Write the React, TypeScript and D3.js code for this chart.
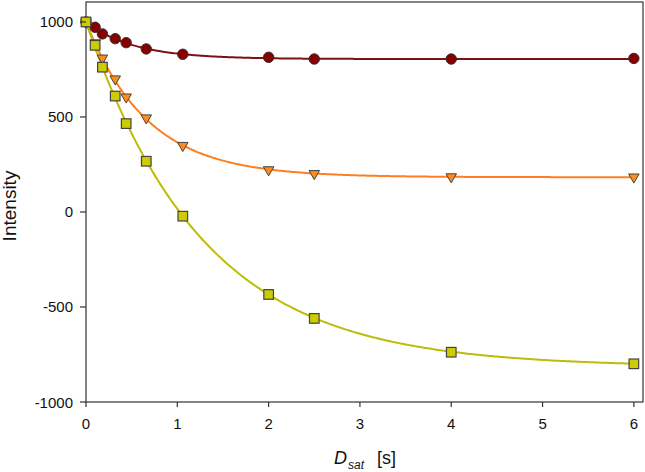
import React from "react";
import * as d3 from "d3";

// Saturation times [s]
const satTimes = [0, 0.1, 0.18, 0.32, 0.44, 0.66, 1.06, 2, 2.5, 4, 6];
// Measured intensities
const redValues = [1000, 972, 937, 912, 891, 858, 830, 814, 805, 805, 808];
const orangeValues = [1000, 890, 810, 700, 605, 495, 350, 222, 202, 185, 184];
const yellowValues = [1000, 877, 762, 610, 465, 267, -22, -434, -560, -738, -799];
// Exponential fit parameters (start, plateau, time constant) per series
const fitStart = [1000, 1000, 1000];
const fitPlateau = [805, 183, -815];
const fitTau = [0.52, 0.67, 1.28];

const xTicks = [0, 1, 2, 3, 4, 5, 6];
const yTicks = [-1000, -500, 0, 500, 1000];

const W = 645;
const H = 472;
const left = 86;
const right = 643;
const top = 2;
const bottom = 402;

const lineColors = ["#7a1414", "#ff7f1e", "#bcbc0a"];
const fillColors = ["#850000", "#ff8c1a", "#cccc00"];

export default function App() {
  const x = d3.scaleLinear().domain([0, 6.1]).range([left, right]);
  const y = d3.scaleLinear().domain([-1000, 1105]).range([bottom, top]);
  const samples = d3.range(0, 6.0001, 0.02);
  const line = d3
    .line<[number, number]>()
    .x((d) => x(d[0]))
    .y((d) => y(d[1]))
    .curve(d3.curveLinear);

  const fitPath = (i: number) =>
    line(
      samples.map((t) => [
        t,
        fitPlateau[i] + (fitStart[i] - fitPlateau[i]) * Math.exp(-t / fitTau[i]),
      ]) as [number, number][]
    ) || "";

  const tri = d3.symbol().type(d3.symbolTriangle).size(48)() || "";
  const font = "Liberation Sans, Arial, sans-serif";
  const axisColor = "#333";

  return (
    <svg
      width={W}
      height={H}
      style={{ position: "absolute", left: 0, top: 0 }}
      fontFamily={font}
    >
      <rect x={0} y={0} width={W} height={H} fill="#fff" />
      {/* frame */}
      <rect
        x={left}
        y={top}
        width={right - left}
        height={bottom - top}
        fill="none"
        stroke={axisColor}
        strokeWidth={1.2}
      />
      {/* fit lines */}
      {[0, 1, 2].map((i) => (
        <path
          key={"fit" + i}
          d={fitPath(i)}
          fill="none"
          stroke={lineColors[i]}
          strokeWidth={2}
        />
      ))}
      {/* red circles */}
      {satTimes.map((t, j) => (
        <circle
          key={"r" + j}
          cx={x(t)}
          cy={y(redValues[j])}
          r={5.2}
          fill={fillColors[0]}
          stroke="#3a2a2a"
          strokeWidth={1}
        />
      ))}
      {/* orange triangles */}
      {satTimes.map((t, j) => (
        <path
          key={"o" + j}
          d={tri}
          transform={`translate(${x(t)},${y(orangeValues[j])}) rotate(180)`}
          fill={fillColors[1]}
          stroke="#444"
          strokeWidth={1}
        />
      ))}
      {/* yellow squares */}
      {satTimes.map((t, j) => (
        <rect
          key={"y" + j}
          x={x(t) - 4.8}
          y={y(yellowValues[j]) - 4.8}
          width={9.6}
          height={9.6}
          fill={fillColors[2]}
          stroke="#444"
          strokeWidth={1.2}
        />
      ))}
      {/* x axis ticks */}
      {xTicks.map((t) => (
        <g key={"xt" + t}>
          <line
            x1={x(t)}
            x2={x(t)}
            y1={bottom}
            y2={bottom + 5}
            stroke={axisColor}
            strokeWidth={1.2}
          />
          <text
            x={x(t)}
            y={bottom + 27}
            fontSize={15}
            textAnchor="middle"
            fill="#111"
          >
            {t}
          </text>
        </g>
      ))}
      {/* y axis ticks */}
      {yTicks.map((v) => (
        <g key={"yt" + v}>
          <line
            x1={left - 6}
            x2={left}
            y1={y(v)}
            y2={y(v)}
            stroke={axisColor}
            strokeWidth={1.2}
          />
          <text
            x={left - 13}
            y={y(v)}
            fontSize={15}
            textAnchor="end"
            dominantBaseline="central"
            fill="#111"
          >
            {v}
          </text>
        </g>
      ))}
      {/* axis titles */}
      <text
        transform={`translate(16,206) rotate(-90)`}
        fontSize={19}
        textAnchor="middle"
        fill="#111"
      >
        Intensity
      </text>
      <text x={334} y={464} fontSize={18} fill="#111">
        <tspan fontStyle="italic">D</tspan>
        <tspan fontStyle="italic" fontSize={12} dy={5} dx={1}>
          sat
        </tspan>
        <tspan x={377} dy={-5}>
          [s]
        </tspan>
      </text>
    </svg>
  );
}
